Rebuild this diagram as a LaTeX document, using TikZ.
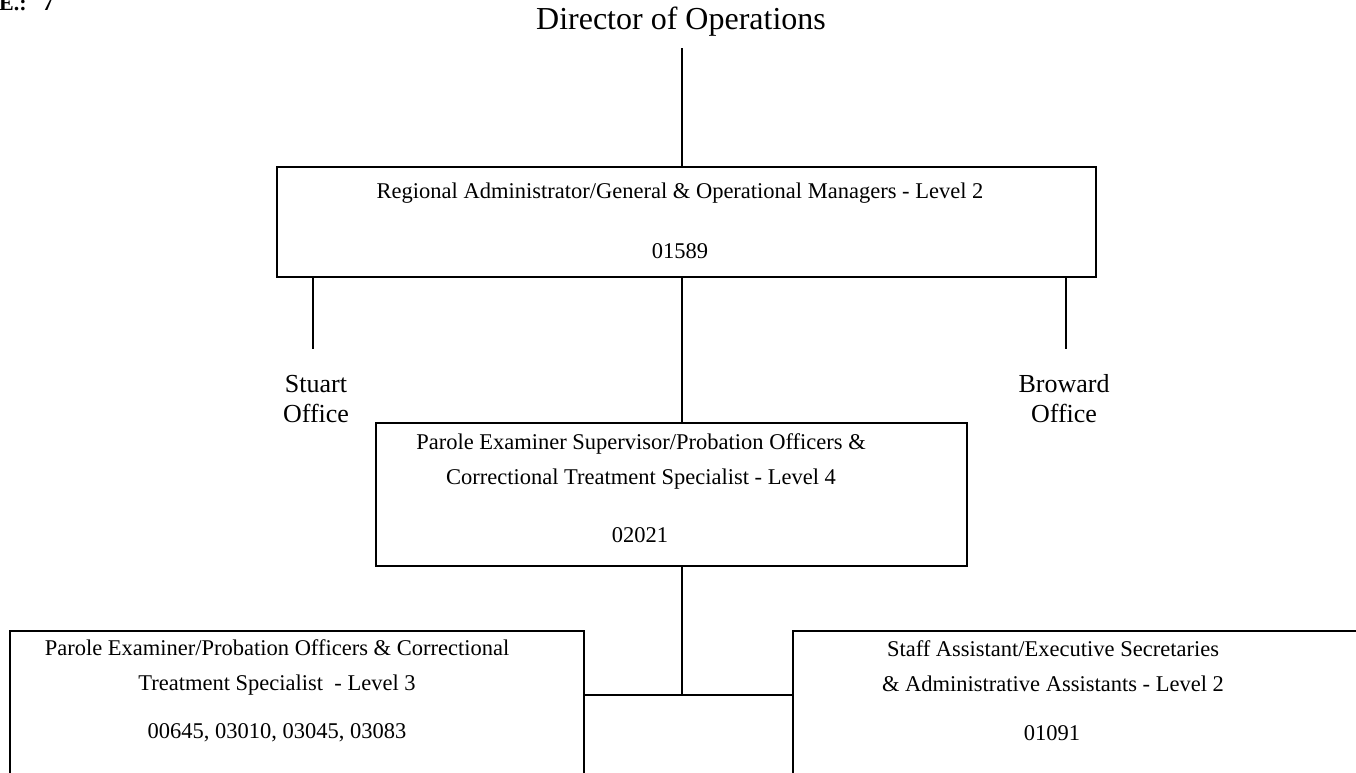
\documentclass[tikz,border=0pt]{standalone}
\usepackage{fontspec}
\setmainfont{Liberation Serif}
\begin{document}
\begin{tikzpicture}[x=1pt,y=-1pt,
  box/.style={draw=black,line width=2.4pt,rectangle,inner sep=0pt},
  conn/.style={draw=black,line width=1.5pt},
  label/.style={inner sep=0pt,align=center,font=\fontsize{22.5}{35}\selectfont},
  office/.style={inner sep=0pt,align=center,font=\fontsize{26}{30}\selectfont}]
\useasboundingbox (0,0) rectangle (1356,772);

% heading and page code
\node[anchor=base west,inner sep=0pt,font=\fontsize{22}{26}\selectfont\bfseries] (code) at (-1,10) {E.:\hspace{16pt}7};
\node[inner sep=0pt,font=\fontsize{32}{38}\selectfont] (dir) at (681,22) {Director of Operations};
\coordinate (dirfoot) at (682,48);
\coordinate (spine) at (682,0);

% boxes
\node[box,minimum width=819pt,minimum height=110pt] (top) at (686.5,222) {};
\node[box,minimum width=591pt,minimum height=143pt] (mid) at (671.5,494.5) {};
\node[box,minimum width=574pt,minimum height=180pt] (left) at (297,721) {};
\node[box,minimum width=607pt,minimum height=180pt] (right) at (1096.5,721) {};

% box texts
\node[label] (toptxt) at (680,193) {Regional Administrator/General \& Operational Managers - Level 2};
\node[label] (topnum) at (680,251) {01589};
\node[label] (midtxt) at (641,461.5) {Parole Examiner Supervisor/Probation Officers \&\\Correctional Treatment Specialist - Level 4};
\node[label] (midnum) at (640,535) {02021};
\node[label] (lefttxt) at (277,667) {Parole Examiner/Probation Officers \& Correctional\\Treatment Specialist~ - Level 3};
\node[label] (leftnum) at (277,733) {00645, 03010, 03045, 03083};
\node[label] (righttxt) at (1053,666) {Staff Assistant/Executive Secretaries\\\& Administrative Assistants - Level 2};
\node[label] (rightnum) at (1052,733) {01091};

% office labels
\coordinate (stuartfoot) at (313,349);
\coordinate (browardfoot) at (1066,349);
\node[office] (stuart) at (316,399) {Stuart\\Office};
\node[office] (broward) at (1064,399) {Broward\\Office};

% connectors
\draw[conn] (dirfoot) -- (dirfoot |- top.north);
\draw[conn] (stuartfoot |- top.south) -- (stuartfoot);
\draw[conn] (browardfoot |- top.south) -- (browardfoot);
\draw[conn] (spine |- top.south) -- (spine |- mid.north);
\coordinate (junction) at (682,695);
\draw[conn] (spine |- mid.south) -- (junction);
\draw[conn] (junction -| left.east) -- (junction -| right.west);
\end{tikzpicture}
\end{document}
